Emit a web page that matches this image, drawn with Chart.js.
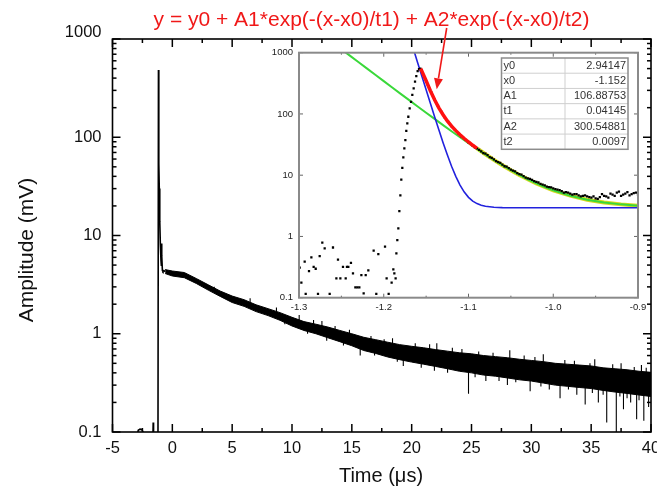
<!DOCTYPE html>
<html><head><meta charset="utf-8">
<script src="https://cdn.jsdelivr.net/npm/chart.js@4.4.1/dist/chart.umd.min.js"></script>
<style>
html,body{margin:0;padding:0;background:#fff;}
#wrap{position:relative;width:657px;height:497px;overflow:hidden;}
#main{position:absolute;left:0;top:0;}
#inset{position:absolute;left:262px;top:22px;}
</style></head><body>
<div id="wrap"><canvas id="main" width="657" height="497"></canvas><canvas id="inset" width="395" height="293"></canvas></div>
<script>
// ---------- DATA ----------
const titleText = "y = y0 + A1*exp(-(x-x0)/t1) + A2*exp(-(x-x0)/t2)";
const xTitle = "Time (\u03BCs)";
const yTitle = "Amplitude (mV)";

const mainXTicks = [-5, 0, 5, 10, 15, 20, 25, 30, 35, 40];
const mainXTickLabels = ["-5", "0", "5", "10", "15", "20", "25", "30", "35", "40"];
const mainXMinor = [-2.5, 2.5, 7.5, 12.5, 17.5, 22.5, 27.5, 32.5, 37.5];
const mainYTicks = [0.1, 1, 10, 100, 1000];
const mainYTickLabels = ["0.1", "1", "10", "100", "1000"];

// early part of trace (pre-trigger, spike, fast decay)
const earlyX = [-5, -2.95, -2.85, -2.7, -2.55, -2.45, -2.3, -1.62, -1.6, -1.57, -1.2, -1.16, -1.14, -1.12, -1.09, -1.05, -1.0, -0.95, -0.92, -0.9, -0.87, -0.83, -0.78, -0.7, -0.6];
const earlyY = [0.09, 0.09, 0.104, 0.107, 0.106, 0.1, 0.09, 0.09, 0.125, 0.09, 0.08, 483, 150, 54, 30, 14, 8, 5.6, 5, 8.3, 6.2, 4.4, 4.3, 4.4, 4.3];

// slow tail: noisy band envelope
const tailX = [-0.6, 0, 1, 2, 3, 4, 5, 6, 7, 8, 9, 10, 11, 12, 13, 14, 15, 16, 17, 18, 19, 20, 21, 22, 23, 24, 25, 26, 27, 28, 29, 30, 31, 32, 33, 34, 35, 36, 37, 38, 39, 40];
const tailUpper = [4.5, 4.35, 4.2, 3.65, 3.15, 2.72, 2.42, 2.22, 1.97, 1.8, 1.64, 1.47, 1.33, 1.25, 1.17, 1.08, 1.0, 0.92, 0.87, 0.82, 0.775, 0.745, 0.72, 0.69, 0.665, 0.64, 0.625, 0.6, 0.585, 0.57, 0.55, 0.535, 0.52, 0.5, 0.49, 0.48, 0.47, 0.45, 0.44, 0.43, 0.415, 0.405];
const tailLower = [4.1, 3.87, 3.72, 3.25, 2.78, 2.4, 2.08, 1.9, 1.68, 1.53, 1.37, 1.2, 1.08, 1.0, 0.91, 0.83, 0.755, 0.675, 0.63, 0.58, 0.545, 0.515, 0.49, 0.465, 0.44, 0.415, 0.4, 0.38, 0.37, 0.355, 0.34, 0.33, 0.315, 0.3, 0.292, 0.284, 0.277, 0.265, 0.255, 0.247, 0.238, 0.23];

// noise spikes in the tail (x, start value, end value)
const spikeX    = [15.7, 19.3, 24.75, 26.2, 28.0, 29.9, 31.5, 32.4, 33.8, 34.5, 35.6, 36.3, 37.1, 37.7, 38.3, 38.8, 39.4, 39.8, 12.5, 18.4, 22.1, 28.2, 31.0, 35.3, 37.5, 39.2,
  3.5, 6.5, 8.7, 10.6, 11.8, 13.6, 14.8, 16.6, 17.7, 20.3, 21.5, 23.4, 24.2, 25.6, 26.8, 29.4, 30.3, 32.8, 33.6, 34.9, 36.8, 38.6, 39.6,
  9.4, 11.3, 12.9, 14.3, 16.9, 18.8, 20.8, 21.9, 23.0, 25.3, 27.3, 28.7, 30.8, 33.1, 35.1, 36.0, 37.4, 38.0, 39.0];
const spikeFrom = [0.78, 0.62, 0.5, 0.47, 0.45, 0.42, 0.4, 0.39, 0.37, 0.37, 0.36, 0.35, 0.335, 0.33, 0.325, 0.32, 0.31, 0.31, 1.1, 0.68, 0.56, 0.45, 0.41, 0.36, 0.33, 0.315,
  2.75, 2.0, 1.6, 1.3, 1.15, 1.0, 0.9, 0.78, 0.72, 0.62, 0.6, 0.54, 0.52, 0.5, 0.48, 0.44, 0.42, 0.39, 0.38, 0.37, 0.35, 0.33, 0.32,
  1.45, 1.2, 1.05, 0.95, 0.76, 0.67, 0.6, 0.57, 0.54, 0.5, 0.46, 0.44, 0.41, 0.38, 0.36, 0.35, 0.33, 0.33, 0.32];
const spikeTo   = [0.6, 0.47, 0.245, 0.33, 0.3, 0.26, 0.27, 0.22, 0.24, 0.19, 0.2, 0.125, 0.09, 0.17, 0.2, 0.135, 0.13, 0.18, 1.35, 0.9, 0.8, 0.68, 0.62, 0.55, 0.5, 0.48,
  3.0, 2.3, 1.85, 1.55, 1.38, 1.2, 1.1, 0.95, 0.88, 0.8, 0.78, 0.72, 0.7, 0.66, 0.64, 0.6, 0.58, 0.54, 0.53, 0.5, 0.49, 0.46, 0.45,
  1.25, 1.0, 0.85, 0.76, 0.6, 0.52, 0.45, 0.42, 0.4, 0.36, 0.33, 0.32, 0.29, 0.27, 0.25, 0.24, 0.23, 0.22, 0.21];

// inset
const insetXTicks = [-1.3, -1.2, -1.1, -1.0, -0.9];
const insetXTickLabels = ["-1.3", "-1.2", "-1.1", "-1.0", "-0.9"];
const insetXMinor = [-1.25, -1.15, -1.05, -0.95];
const insetYTicks = [0.1, 1, 10, 100, 1000];
const insetYTickLabels = ["0.1", "1", "10", "100", "1000"];

const dotX = [-1.2992, -1.2972, -1.2933, -1.2921, -1.2882, -1.2854, -1.2827, -1.2803, -1.2776, -1.2756, -1.2725, -1.2697, -1.2638, -1.2599, -1.2559, -1.254, -1.2512, -1.2481, -1.2449, -1.2434, -1.2418, -1.2387, -1.2363, -1.2335, -1.2312, -1.2288, -1.2264, -1.2237, -1.2213, -1.2182, -1.2119, -1.2088, -1.2064, -1.1985, -1.1966, -1.1942, -1.1907, -1.1887, -1.1875, -1.186,
  -1.1851, -1.184, -1.1828, -1.1816, -1.1804, -1.1793, -1.1781, -1.1769, -1.1757, -1.1745, -1.1734, -1.1722, -1.171, -1.1694, -1.1678, -1.1663, -1.1647, -1.1631, -1.1616, -1.16, -1.1584, -1.1568, -1.1553,
  -1.152, -1.148, -1.144, -1.14, -1.136, -1.132, -1.128, -1.124, -1.12, -1.116, -1.112, -1.108, -1.104, -1.1,
  -1.095, -1.09, -1.085, -1.08, -1.075, -1.07, -1.065, -1.06, -1.055, -1.05, -1.045, -1.04, -1.035, -1.03, -1.025, -1.02, -1.015, -1.01, -1.005, -1.0, -0.995, -0.99, -0.985, -0.98, -0.975, -0.97, -0.965, -0.96, -0.955, -0.95, -0.945, -0.94, -0.935, -0.93, -0.925, -0.92, -0.915, -0.91, -0.905, -0.9,
  -1.0925, -1.0875, -1.0825, -1.0775, -1.0725, -1.0675, -1.0625, -1.0575, -1.0525, -1.0475, -1.0425, -1.0375, -1.0325, -1.0275, -1.0225, -1.0175, -1.0125, -1.0075, -1.0025, -0.9975, -0.9925, -0.9875, -0.9825, -0.9775, -0.9725, -0.9675, -0.9625, -0.9575, -0.9525, -0.9475, -0.9425, -0.9375, -0.9325, -0.9275, -0.9225, -0.9175, -0.9125, -0.9075, -0.9025];
const dotY = [0.31, 0.176, 0.387, 0.115, 0.272, 0.456, 0.32, 0.297, 0.115, 0.479, 0.79, 0.64, 0.115, 0.66, 0.207, 0.42, 0.207, 0.32, 0.207, 0.32, 0.32, 0.37, 0.25, 0.148, 0.148, 0.148, 0.234, 0.118, 0.234, 0.28, 0.585, 0.115, 0.516, 0.68, 0.207, 0.115, 0.176, 0.29, 0.25, 0.207,
  0.53, 0.87, 1.36, 2.6, 4.7, 8.5, 13.2, 19.5, 27.4, 37.5, 53, 70, 90, 123, 158, 204, 262, 336, 416, 502, 541, 550, 520,
  400, 300, 225, 172, 135, 108, 88, 74, 63, 55, 48, 42.5, 38, 34.5,
  30.5, 27.5, 24.5, 22.5, 19.8, 18.2, 16.4, 14.9, 13.8, 12.3, 11.5, 10.4, 9.7, 8.9, 8.4, 7.8, 7.2, 6.8, 6.4, 6.1, 5.8, 5.5, 5.3, 5.0, 4.9, 4.7, 4.6, 4.5, 4.3, 4.2, 4.4, 4.6, 4.3, 4.8, 5.2, 4.6, 5.0, 4.7, 5.1, 4.8,
  28.5, 25.8, 23.0, 21.3, 19.2, 17.0, 15.9, 14.0, 13.0, 11.9, 10.8, 10.2, 9.1, 8.7, 8.0, 7.6, 7.0, 6.5, 6.3, 5.9, 5.7, 5.2, 5.2, 4.8, 4.9, 4.5, 4.7, 4.4, 4.5, 4.1, 4.9, 4.5, 5.0, 4.6, 5.4, 4.8, 5.3, 4.9, 5.2];

const blueX = [-1.1655, -1.16, -1.155, -1.15, -1.145, -1.14, -1.135, -1.13, -1.125, -1.12, -1.115, -1.11, -1.105, -1.10, -1.095, -1.09, -1.085, -1.08, -1.07, -1.06, -1.05, -1.0, -0.9];
const blueY = [1210, 688, 412, 247.6, 149, 90, 55, 34, 21.5, 14, 9.57, 6.9, 5.3, 4.35, 3.78, 3.44, 3.24, 3.12, 2.99, 2.955, 2.945, 2.94, 2.94];

const greenX = [-1.25, -1.24, -1.23, -1.22, -1.21, -1.20, -1.19, -1.18, -1.17, -1.16, -1.15, -1.14, -1.13, -1.12, -1.11, -1.10, -1.09, -1.08, -1.07, -1.06, -1.05, -1.04, -1.03, -1.02, -1.01, -1.00, -0.98, -0.96, -0.94, -0.92, -0.90];
const greenY = [1140, 896, 705, 554.5, 436, 343, 270.3, 213, 168, 132.6, 104.8, 83, 65.8, 52.3, 41.7, 33.4, 26.9, 21.8, 17.7, 14.55, 12.06, 10.1, 8.57, 7.36, 6.42, 5.67, 4.63, 3.98, 3.58, 3.34, 3.18];

const redX = [-1.1565, -1.155, -1.15, -1.145, -1.14, -1.135, -1.13, -1.125, -1.12, -1.115, -1.11, -1.105, -1.10, -1.095, -1.09];
const redY = [550, 500, 349.5, 239, 170, 126, 97, 77, 63.4, 53.4, 45.7, 39.7, 34.85, 30.8, 27.4];

const yellowX = [-1.09, -1.08, -1.07, -1.06, -1.05, -1.04, -1.03, -1.02, -1.01, -1.0, -0.98, -0.96, -0.94, -0.92, -0.9];
const yellowY = [27.4, 21.98, 17.75, 14.57, 12.07, 10.1, 8.57, 7.36, 6.42, 5.67, 4.63, 3.98, 3.58, 3.34, 3.18];

const tableNames = ["y0", "x0", "A1", "t1", "A2", "t2"];
const tableValues = ["2.94147", "-1.152", "106.88753", "0.04145", "300.54881", "0.0097"];

// ---------- helpers ----------
const pts = (xs, ys) => xs.map((x, i) => ({x: x, y: ys[i]}));
function spikeData() {
  const out = [];
  spikeX.forEach((x, i) => { out.push({x: x, y: spikeFrom[i]}); out.push({x: x, y: spikeTo[i]}); out.push({x: x, y: null}); });
  return out;
}
function decadeMinors(lo, hi) {
  const m = [];
  for (let d = lo; d < hi; d *= 10) for (let k = 2; k <= 9; k++) m.push(d * k);
  return m;
}

function makeDecor(c) {
  return {
    id: 'decor_' + c.name,
    beforeDraw(chart) {
      if (!c.whiteArea) return;
      const a = chart.chartArea, ctx = chart.ctx;
      ctx.save(); ctx.fillStyle = '#fff';
      ctx.fillRect(a.left, a.top, a.right - a.left, a.bottom - a.top);
      ctx.restore();
    },
    afterDraw(chart) {
      const ctx = chart.ctx, a = chart.chartArea, xs = chart.scales.x, ys = chart.scales.y;
      ctx.save();
      ctx.strokeStyle = c.tickColor; ctx.lineWidth = c.tickWidth;
      const seg = (x1, y1, x2, y2) => { ctx.beginPath(); ctx.moveTo(x1, y1); ctx.lineTo(x2, y2); ctx.stroke(); };
      const xt = (vals, len) => vals.forEach(v => { const p = xs.getPixelForValue(v); seg(p, a.bottom, p, a.bottom - len); seg(p, a.top, p, a.top + len); });
      const yt = (vals, len) => vals.forEach(v => { const p = ys.getPixelForValue(v); seg(a.left, p, a.left + len, p); seg(a.right, p, a.right - len, p); });
      xt(c.xMajor, c.majorLen); xt(c.xMinor, c.minorLen);
      yt(c.yMajor, c.majorLen); yt(c.yMinor, c.minorLen);
      ctx.strokeStyle = c.frameColor; ctx.lineWidth = c.frameWidth;
      ctx.strokeRect(a.left, a.top, a.right - a.left, a.bottom - a.top);
      ctx.fillStyle = c.labelColor; ctx.font = c.font;
      ctx.textAlign = 'center'; ctx.textBaseline = 'middle';
      c.xMajor.forEach((v, i) => ctx.fillText(c.xLabels[i], xs.getPixelForValue(v), a.bottom + c.xLabelDy));
      ctx.textAlign = 'right';
      c.yMajor.forEach((v, i) => ctx.fillText(c.yLabels[i], a.left - c.yLabelDx, ys.getPixelForValue(v) + (c.yLabelShift[i] || 0)));
      if (c.extra) c.extra(chart, ctx);
      ctx.restore();
    }
  };
}

const FONT = '"Liberation Sans", Arial, sans-serif';

// ---------- main chart ----------
new Chart(document.getElementById('main'), {
  type: 'line',
  data: {
    datasets: [
      {data: pts(earlyX, earlyY), borderColor: '#000', borderWidth: 1.6, pointRadius: 0, fill: false},
      {data: spikeData(), borderColor: '#000', borderWidth: 1.1, pointRadius: 0, fill: false, spanGaps: false},
      {data: pts(tailX, tailUpper), borderColor: '#000', borderWidth: 1, pointRadius: 0, fill: false},
      {data: pts(tailX, tailLower), borderColor: '#000', borderWidth: 1, pointRadius: 0, fill: '-1', backgroundColor: '#000'}
    ]
  },
  options: {
    responsive: false, animation: false, devicePixelRatio: 1,
    layout: {padding: {left: 0, right: 6, top: 39, bottom: 0}},
    plugins: {legend: {display: false}, tooltip: {enabled: false}},
    scales: {
      x: {type: 'linear', min: -5, max: 40, grid: {display: false}, border: {display: false}, ticks: {display: false},
          afterFit(s) { s.height = 65; }},
      y: {type: 'logarithmic', min: 0.1, max: 1000, grid: {display: false}, border: {display: false}, ticks: {display: false},
          afterFit(s) { s.width = 112.5; }}
    }
  },
  plugins: [makeDecor({
    name: 'main', whiteArea: false,
    xMajor: mainXTicks, xMinor: mainXMinor, xLabels: mainXTickLabels,
    yMajor: mainYTicks, yMinor: decadeMinors(0.1, 1000), yLabels: mainYTickLabels,
    majorLen: 8, minorLen: 4, tickColor: '#000', tickWidth: 1.5,
    frameColor: '#000', frameWidth: 1.6, labelColor: '#111', font: '16.5px ' + FONT,
    xLabelDy: 16, yLabelDx: 11, yLabelShift: [0, 0, 0, 0, -7],
    extra(chart, ctx) {
      ctx.fillStyle = '#111'; ctx.textAlign = 'center'; ctx.textBaseline = 'middle';
      ctx.font = '20px ' + FONT;
      ctx.fillText(xTitle, 381, 476);
      ctx.save(); ctx.translate(27, 250); ctx.rotate(-Math.PI / 2);
      ctx.font = '21px ' + FONT; ctx.fillText(yTitle, 0, 0); ctx.restore();
      ctx.fillStyle = '#f01818'; ctx.font = '21px ' + FONT; ctx.textBaseline = 'alphabetic';
      ctx.fillText(titleText, 371.5, 26);
    }
  })]
});

// ---------- inset chart ----------
new Chart(document.getElementById('inset'), {
  type: 'line',
  data: {
    datasets: [
      {data: pts(redX, redY), borderColor: '#ff1010', borderWidth: 3.5, pointRadius: 0, fill: false},
      {data: pts(dotX, dotY), showLine: false, pointRadius: 1.6, pointStyle: 'rect', pointBackgroundColor: '#000', pointBorderWidth: 0, borderColor: '#000'},
      {data: pts(blueX, blueY), borderColor: '#2222dd', borderWidth: 1.6, pointRadius: 0, fill: false},
      {data: pts(greenX, greenY), borderColor: '#3ad83a', borderWidth: 2, pointRadius: 0, fill: false},
      {data: pts(yellowX, yellowY), borderColor: '#d8d820', borderWidth: 4, pointRadius: 0, fill: false}
    ]
  },
  options: {
    responsive: false, animation: false, devicePixelRatio: 1,
    layout: {padding: {left: 0, right: 19, top: 30.7, bottom: 0}},
    plugins: {legend: {display: false}, tooltip: {enabled: false}},
    scales: {
      x: {type: 'linear', min: -1.3, max: -0.9, grid: {display: false}, border: {display: false}, ticks: {display: false},
          afterFit(s) { s.height = 17.3; }},
      y: {type: 'logarithmic', min: 0.1, max: 1000, grid: {display: false}, border: {display: false}, ticks: {display: false},
          afterFit(s) { s.width = 37; }}
    }
  },
  plugins: [makeDecor({
    name: 'inset', whiteArea: true,
    xMajor: insetXTicks, xMinor: insetXMinor, xLabels: insetXTickLabels,
    yMajor: insetYTicks, yMinor: [], yLabels: insetYTickLabels,
    majorLen: 4, minorLen: 2, tickColor: '#666', tickWidth: 1,
    frameColor: '#8a8a8a', frameWidth: 2, labelColor: '#222', font: '9.5px ' + FONT,
    xLabelDy: 9.5, yLabelDx: 6, yLabelShift: [0, 0, 0, 0, 0],
    extra(chart, ctx) {
      // parameter table
      const L = 239.5, R = 366, T = 36, B = 127.3, D = 303, rh = (B - T) / tableNames.length;
      ctx.fillStyle = '#fff'; ctx.fillRect(L, T, R - L, B - T);
      ctx.strokeStyle = '#cfcfcf'; ctx.lineWidth = 1;
      for (let i = 1; i < tableNames.length; i++) { ctx.beginPath(); ctx.moveTo(L, T + i * rh); ctx.lineTo(R, T + i * rh); ctx.stroke(); }
      ctx.beginPath(); ctx.moveTo(D, T); ctx.lineTo(D, B); ctx.stroke();
      ctx.strokeStyle = '#8c8c8c'; ctx.lineWidth = 1.5; ctx.strokeRect(L, T, R - L, B - T);
      ctx.fillStyle = '#333'; ctx.font = '11px ' + FONT; ctx.textBaseline = 'middle';
      tableNames.forEach((n, i) => {
        ctx.textAlign = 'left'; ctx.fillText(n, L + 2, T + rh * (i + 0.5));
        ctx.textAlign = 'right'; ctx.fillText(tableValues[i], R - 2, T + rh * (i + 0.5));
      });
      // red arrow
      const x1 = 184.7, y1 = 6, x2 = 174.7, y2 = 67.3;
      ctx.strokeStyle = '#f01818'; ctx.fillStyle = '#f01818'; ctx.lineWidth = 1.6;
      const ang = Math.atan2(y2 - y1, x2 - x1), hl = 11, hw = 4.5;
      const bx = x2 - hl * Math.cos(ang), by = y2 - hl * Math.sin(ang);
      ctx.beginPath(); ctx.moveTo(x1, y1); ctx.lineTo(bx, by); ctx.stroke();
      ctx.beginPath(); ctx.moveTo(x2, y2);
      ctx.lineTo(bx + hw * Math.sin(ang), by - hw * Math.cos(ang));
      ctx.lineTo(bx - hw * Math.sin(ang), by + hw * Math.cos(ang));
      ctx.closePath(); ctx.fill();
    }
  })]
});
</script>
</body></html>
